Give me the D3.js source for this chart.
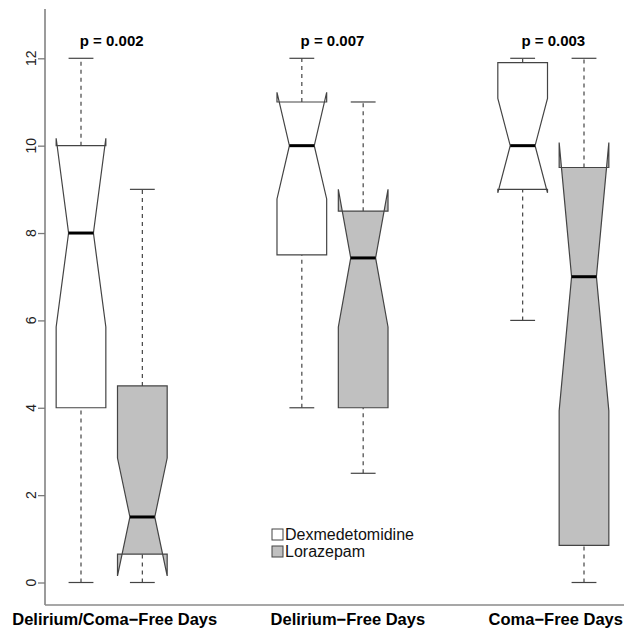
<!DOCTYPE html>
<html>
<head>
<meta charset="utf-8">
<script src="https://cdn.jsdelivr.net/npm/d3@7"></script>
<style>
  body { margin: 0; background: #fff; }
  svg { display: block; font-family: "Liberation Sans", Arial, Helvetica, sans-serif; }
</style>
</head>
<body>
<div id="chart"></div>
<script>
// outcome categories and labels
var categories = ["Delirium/Coma\u2212Free Days", "Delirium\u2212Free Days", "Coma\u2212Free Days"];
var pValues = ["p = 0.002", "p = 0.007", "p = 0.003"];
var treatments = ["Dexmedetomidine", "Lorazepam"];

// box stats: [lower whisker, q1, median, q3, upper whisker]
var dexStats = [[0, 4, 8, 10, 12], [4, 7.5, 10, 11, 12], [6, 9, 10, 11.9, 12]];
var lorStats = [[0, 0.65, 1.5, 4.5, 9], [2.5, 4, 7.43, 8.5, 11], [0, 0.85, 7, 9.5, 12]];
// notch limits [lower, upper]
var dexNotch = [[5.85, 10.17], [8.78, 11.22], [8.92, 11.08]];
var lorNotch = [[0.15, 2.85], [5.85, 9.0], [3.93, 10.07]];

// box positions on the x scale, and where the category labels sit
var dexPos = [1, 4.6, 8.2];
var lorPos = [2, 5.6, 9.2];
var labelPos = [1.55, 5.35, 8.74];
var yTicks = [0, 2, 4, 6, 8, 10, 12];

var width = 624, height = 629;
var axisX = 45, axisBottom = 605;

var x = d3.scaleLinear().domain([1, 9.2]).range([81, 584]);
var y = d3.scaleLinear().domain([0, 12]).range([582.5, 58.3]);

var boxHalf = 0.405;   // half box width, x units
var notchFrac = 0.5;

var svg = d3.select("#chart").append("svg")
  .attr("width", width)
  .attr("height", height);

// axis lines (left + bottom)
svg.append("line")
  .attr("x1", axisX).attr("x2", axisX)
  .attr("y1", 9).attr("y2", axisBottom)
  .attr("stroke", "#7a7a7a").attr("stroke-width", 1.5);
svg.append("line")
  .attr("x1", axisX).attr("x2", width)
  .attr("y1", axisBottom).attr("y2", axisBottom)
  .attr("stroke", "#8a8a8a").attr("stroke-width", 1.5);

// y ticks
var yAxis = d3.axisLeft(y).tickValues(yTicks).tickSize(7).tickFormat("");
var yg = svg.append("g")
  .attr("transform", "translate(" + axisX + ",0)")
  .call(yAxis);
yg.select(".domain").remove();
yg.selectAll(".tick line").attr("stroke", "#7a7a7a").attr("stroke-width", 1.3);

svg.selectAll("text.ytick")
  .data(yTicks)
  .enter().append("text")
    .attr("class", "ytick")
    .attr("transform", function(d) { return "translate(36," + y(d) + ") rotate(-90)"; })
    .attr("text-anchor", "middle")
    .style("font-size", "14px")
    .style("fill", "#222")
    .text(function(d) { return d; });

function drawBoxes(stats, notch, pos, fill) {
  var g = svg.append("g");
  stats.forEach(function(s, i) {
    var c = pos[i];
    var cx = x(c);
    var staple = (x(c + boxHalf) - x(c - boxHalf)) / 4;

    // whiskers
    [[s[0], s[1]], [s[3], s[4]]].forEach(function(w) {
      g.append("line")
        .attr("x1", cx).attr("x2", cx)
        .attr("y1", y(w[0])).attr("y2", y(w[1]))
        .attr("stroke", "#444").attr("stroke-width", 1.2)
        .attr("stroke-dasharray", "4,4");
    });
    [s[0], s[4]].forEach(function(v) {
      g.append("line")
        .attr("x1", cx - staple).attr("x2", cx + staple)
        .attr("y1", y(v)).attr("y2", y(v))
        .attr("stroke", "#444").attr("stroke-width", 1.2);
    });

    // notched box, same point order as R's bxp
    var xs = [-1, 1, 1, notchFrac, 1, 1, -1, -1, -notchFrac, -1];
    var ys = [s[1], s[1], notch[i][0], s[2], notch[i][1], s[3], s[3], notch[i][1], s[2], notch[i][0]];
    var pts = xs.map(function(k, j) { return [x(c + k * boxHalf), y(ys[j])]; });
    g.append("polygon")
      .attr("points", pts.map(function(p) { return p.join(","); }).join(" "))
      .attr("fill", fill)
      .attr("stroke", "#444")
      .attr("stroke-width", 1.2)
      .attr("stroke-linejoin", "miter");

    // median
    g.append("line")
      .attr("x1", x(c - notchFrac * boxHalf)).attr("x2", x(c + notchFrac * boxHalf))
      .attr("y1", y(s[2])).attr("y2", y(s[2]))
      .attr("stroke", "#000").attr("stroke-width", 3);
  });
}

drawBoxes(dexStats, dexNotch, dexPos, "#ffffff");
drawBoxes(lorStats, lorNotch, lorPos, "#c0c0c0");

// p values
svg.selectAll("text.pval")
  .data(pValues)
  .enter().append("text")
    .attr("class", "pval")
    .attr("x", function(d, i) { return x((dexPos[i] + lorPos[i]) / 2); })
    .attr("y", 46)
    .attr("text-anchor", "middle")
    .style("font-size", "15px")
    .style("font-weight", "bold")
    .text(function(d) { return d; });

// category labels
svg.selectAll("text.cat")
  .data(categories)
  .enter().append("text")
    .attr("class", "cat")
    .attr("x", function(d, i) { return x(labelPos[i]); })
    .attr("y", 625)
    .attr("text-anchor", "middle")
    .style("font-size", "16.5px")
    .style("font-weight", "bold")
    .text(function(d) { return d; });

// legend
var legendFill = ["#ffffff", "#c0c0c0"];
var legend = svg.append("g").attr("transform", "translate(272,529)");
legend.selectAll("rect")
  .data(treatments)
  .enter().append("rect")
    .attr("x", 0)
    .attr("y", function(d, i) { return i * 17; })
    .attr("width", 11)
    .attr("height", 11)
    .attr("fill", function(d, i) { return legendFill[i]; })
    .attr("stroke", "#444")
    .attr("stroke-width", 1);
legend.selectAll("text")
  .data(treatments)
  .enter().append("text")
    .attr("x", 13)
    .attr("y", function(d, i) { return i * 17 + 11; })
    .style("font-size", "16px")
    .style("fill", "#111")
    .text(function(d) { return d; });
</script>
</body>
</html>
